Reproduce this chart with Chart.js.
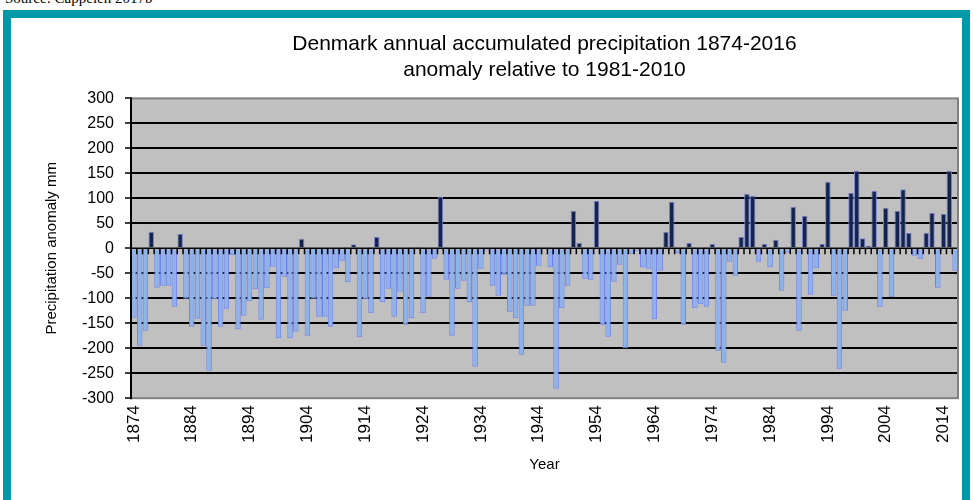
<!DOCTYPE html>
<html>
<head>
<meta charset="utf-8">
<title>Denmark precipitation anomaly</title>
<script src="https://cdn.jsdelivr.net/npm/chart.js@4/dist/chart.umd.min.js"></script>
<style>
  body { margin: 0; background: #fff; }
  #source { position: absolute; left: 5px; top: -10px; font: 15px "Liberation Serif", "Times New Roman", serif; color: #000; }
  #frame { position: absolute; left: 3px; top: 10px; width: 951px; height: 600px; border: 8px solid #0099A8; border-bottom: none; }
  #precip { position: absolute; left: 0; top: 0; }
</style>
</head>
<body>
<div id="source">Source: Cappelen 2017b</div>
<div id="frame"></div>
<canvas id="precip" width="973" height="500"></canvas>
<script>
// annual precipitation anomaly (mm) relative to 1981-2010
const firstYear = 1874
const anomalies = [
  -139, -195, -165, 33, -79, -75, -75, -117, 29, -101,      // 1874-1883
  -157, -141, -195, -245, -102, -157, -121, -14, -162, -135, // 1884-1893
  -106, -82, -143, -80, -37, -180, -57, -180, -167, 19,      // 1894-1903
  -175, -101, -137, -137, -157, -40, -25, -68, 8, -178,      // 1904-1913
  -102, -130, 23, -108, -81, -137, -87, -153, -140, 3,       // 1914-1923
  -130, -97, -21, 103, -63, -175, -81, -65, -108, -237,      // 1924-1933
  -41, -4, -75, -95, -53, -127, -140, -213, -115, -115,      // 1934-1943
  -35, 3, -38, -281, -120, -75, 75, 11, -61, -63,            // 1944-1953
  95, -153, -177, -67, -33, -200, -12, -5, -38, -41,         // 1954-1963
  -142, -45, 33, 93, -10, -153, 11, -120, -112, -117,        // 1964-1973
  9, -205, -229, -27, -55, 23, 109, 105, -27, 9,             // 1974-1983
  -38, 17, -85, -9, 83, -165, 65, -93, -40, 9,               // 1984-1993
  133, -95, -241, -125, 111, 155, 20, 5, 115, -117,          // 1994-2003
  81, -98, 75, 118, 31, -15, -21, 31, 71, -79,               // 2004-2013
  69, 155, -45                                               // 2014-2016
]
const years = anomalies.map((v, i) => String(firstYear + i))
const yTicks = [-300, -250, -200, -150, -100, -50, 0, 50, 100, 150, 200, 250, 300]

const font = "'Liberation Sans', Arial, sans-serif"

// grey plot area with border, like the spreadsheet original
const plotArea = {
  id: 'plotArea',
  beforeDraw (chart) {
    const { ctx, chartArea: a } = chart
    ctx.save()
    ctx.fillStyle = '#C0C0C0'
    ctx.fillRect(a.left, a.top, a.right - a.left, a.bottom - a.top)
    ctx.restore()
  },
  afterDraw (chart) {
    const { ctx, chartArea: a } = chart
    ctx.save()
    ctx.strokeStyle = '#808080'
    ctx.lineWidth = 2
    ctx.strokeRect(a.left, a.top, a.right - a.left, a.bottom - a.top)
    // left axis line drawn again on top
    ctx.strokeStyle = '#000'
    ctx.beginPath()
    ctx.moveTo(a.left, a.top - 1)
    ctx.lineTo(a.left, a.bottom + 1)
    ctx.stroke()
    ctx.restore()
  }
}

// category axis crossing at zero with small tick marks between the bars
const zeroAxis = {
  id: 'zeroAxis',
  afterDatasetsDraw (chart) {
    const { ctx, chartArea: a, scales: { x, y } } = chart
    const y0 = y.getPixelForValue(0)
    const half = (x.getPixelForValue(1) - x.getPixelForValue(0)) / 2
    ctx.save()
    ctx.strokeStyle = '#000'
    ctx.lineWidth = 1.5
    ctx.beginPath()
    ctx.moveTo(a.left, y0)
    ctx.lineTo(a.right, y0)
    for (let i = 0; i <= years.length; i++) {
      const bx = x.getPixelForValue(i) - half
      ctx.moveTo(bx, y0)
      ctx.lineTo(bx, y0 + 6)
    }
    ctx.stroke()
    ctx.restore()
  }
}

const chart = new Chart(document.getElementById('precip'), {
  type: 'bar',
  data: {
    labels: years,
    datasets: [{
      label: 'Precipitation anomaly',
      data: anomalies,
      backgroundColor: (c) => c.raw < 0 ? '#8EB2EA' : '#13254E',
      borderColor: (c) => c.raw < 0 ? '#6F80EE' : '#7B82CC',
      borderWidth: 1,
      barPercentage: 0.95,
      categoryPercentage: 1
    }]
  },
  options: {
    responsive: false,
    animation: false,
    devicePixelRatio: 1,
    layout: { padding: { top: 0, right: 15, bottom: 26, left: 0 } },
    plugins: {
      legend: { display: false },
      tooltip: { enabled: false },
      title: {
        display: true,
        fullSize: false,
        text: ['Denmark annual accumulated precipitation 1874-2016', 'anomaly relative to 1981-2010'],
        color: '#000',
        font: { family: font, size: 21, weight: 'normal', lineHeight: 1.2 },
        padding: { top: 32, bottom: 16 }
      }
    },
    scales: {
      x: {
        grid: { display: false, drawTicks: false },
        border: { display: false },
        afterFit: (scale) => { scale.paddingRight = 0; scale.paddingLeft = 0 },
        ticks: {
          autoSkip: false,
          minRotation: 90,
          maxRotation: 90,
          padding: 7,
          color: '#000',
          font: { family: font, size: 17 },
          callback: (v, i) => i % 10 === 0 ? years[i] : ''
        },
        title: {
          display: true,
          text: 'Year',
          color: '#000',
          font: { family: font, size: 15, lineHeight: 1.2 },
          padding: { top: 6, bottom: 0 }
        }
      },
      y: {
        min: yTicks[0],
        max: yTicks[yTicks.length - 1],
        afterBuildTicks: (scale) => { scale.ticks = yTicks.map(v => ({ value: v })) },
        afterFit: (scale) => { scale.width = 131 },
        grid: {
          color: (c) => (c.tick && (c.tick.value === 0 || Math.abs(c.tick.value) === 300)) ? 'rgba(0,0,0,0)' : '#000',
          lineWidth: 2,
          tickColor: '#000',
          tickLength: 6,
          tickWidth: 1.5
        },
        border: { display: true, color: '#000', width: 2 },
        ticks: {
          padding: 11,
          color: '#000',
          font: { family: font, size: 16 }
        },
        title: {
          display: true,
          text: 'Precipitation anomaly mm',
          color: '#000',
          font: { family: font, size: 15, lineHeight: 1.2 },
          padding: { top: 43, bottom: 0 }
        }
      }
    }
  },
  plugins: [plotArea, zeroAxis]
})
</script>
</body>
</html>
